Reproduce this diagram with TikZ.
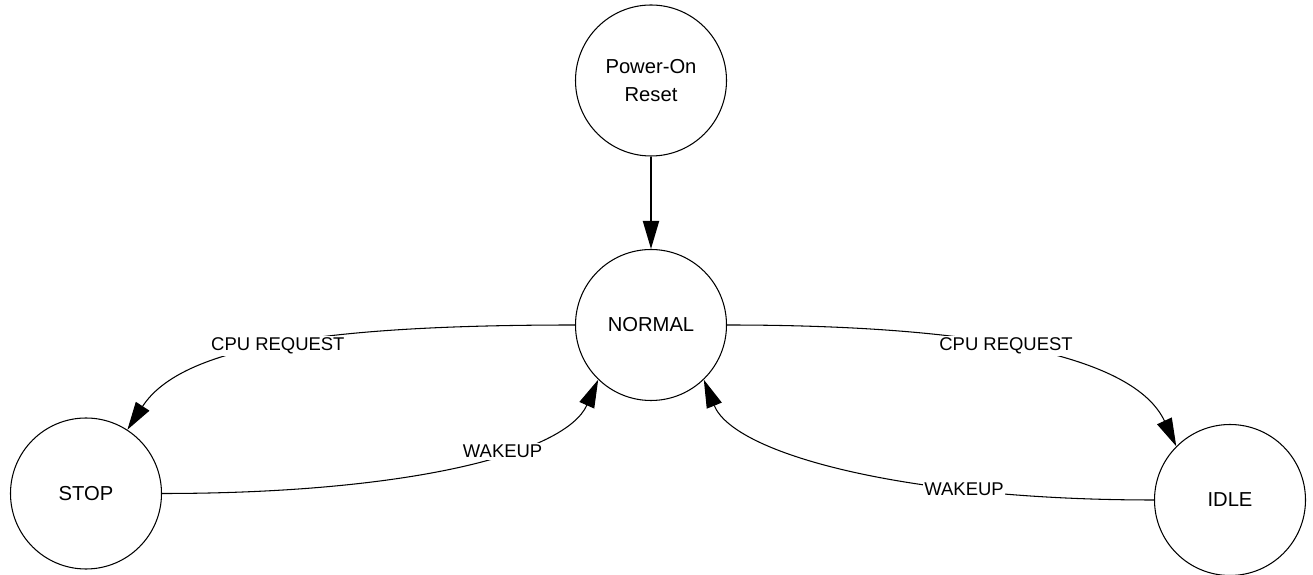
\documentclass[tikz,border=0pt]{standalone}
\usepackage{fontspec}
\setmainfont{Liberation Sans}
\usetikzlibrary{arrows.meta,positioning}

\begin{document}
\begin{tikzpicture}[
  >={Triangle[length=0.56cm, width=0.32cm]},
  state/.style={draw, circle, line width=0.6pt, minimum size=3.02cm, inner sep=0pt, align=center, font=\fontsize{11.5}{15.5}\selectfont},
  arr/.style={->, line width=0.6pt},
  lbl/.style={fill=white, inner sep=1pt, font=\fontsize{10.5}{12}\selectfont},
]
\useasboundingbox (0,0) rectangle (26.26,-11.5);

\node[state] (por) at (13.02, -1.61) {Power-On\\Reset};
\node[state] (normal) at (13.02, -6.5) {NORMAL};
\node[state] (stop) at (1.72, -9.87) {STOP};
\node[state] (idle) at (24.6, -10) {IDLE};

\draw[arr, line width=1.1pt] (por) -- (normal);

% normal <-> stop
\draw[arr] (normal.west) .. controls +(-5,0) and +(57:2) .. node[lbl, pos=0.5] {CPU REQUEST} (stop.57);
\draw[arr] (stop.east) .. controls +(5,0) and +(246:1.6) .. node[lbl, pos=0.6] {WAKEUP} (normal.226);

% normal <-> idle
\draw[arr] (normal.east) .. controls +(5,0) and +(115:2) .. node[lbl, pos=0.45] {CPU REQUEST} (idle.135);
\draw[arr] (idle.west) .. controls +(-5,0) and +(292:1.6) .. node[lbl, pos=0.28] {WAKEUP} (normal.314);

\end{tikzpicture}
\end{document}
